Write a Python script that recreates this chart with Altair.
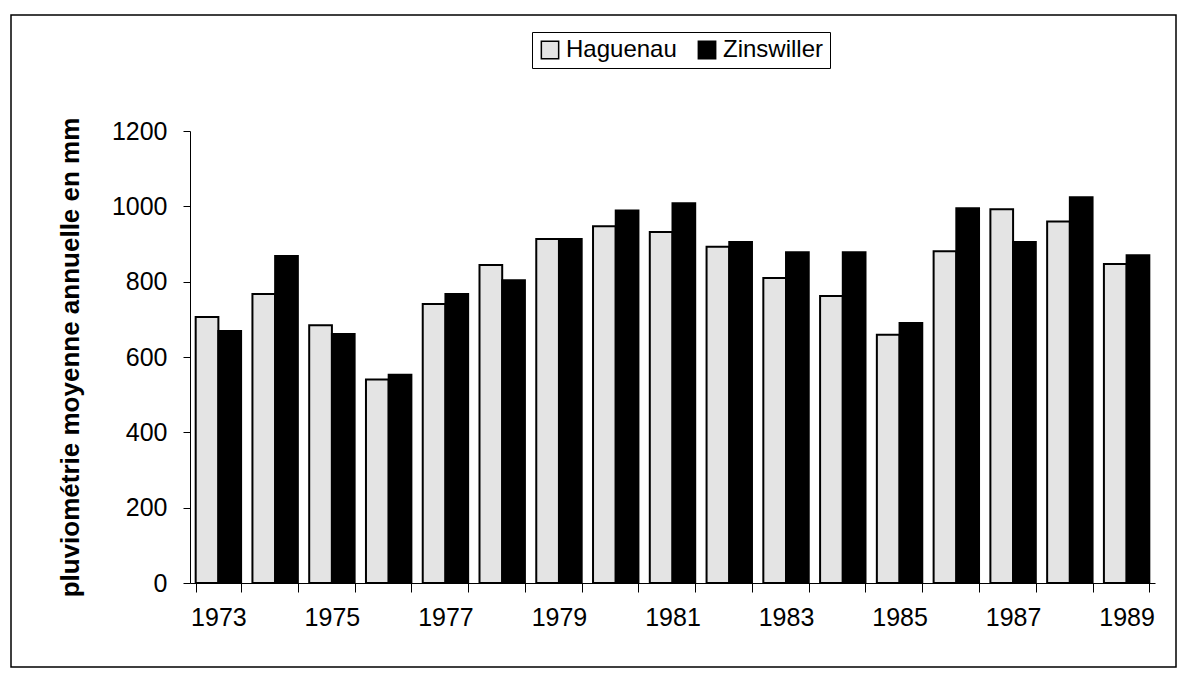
import altair as alt
import pandas as pd

years = [str(y) for y in range(1973, 1990)]
haguenau = [706, 767, 684, 540, 741, 844, 913, 947, 932, 893, 810, 762, 659, 881, 992, 960, 847]
zinswiller = [669, 868, 661, 553, 767, 804, 913, 989, 1008, 905, 878, 878, 690, 995, 905, 1024, 870]
series = ["Haguenau", "Zinswiller"]
colors = ["#e4e4e4", "#000000"]
y_ticks = [0, 200, 400, 600, 800, 1000, 1200]

rows = []
for i, yr in enumerate(years):
    rows.append({"annee": yr, "station": series[0], "pluie": haguenau[i]})
    rows.append({"annee": yr, "station": series[1], "pluie": zinswiller[i]})
df = pd.DataFrame(rows)

FONT = "Liberation Sans"

bars = alt.Chart(df).mark_bar(stroke="black", strokeWidth=2).encode(
    x=alt.X(
        "annee:N",
        sort=years,
        scale=alt.Scale(paddingInner=0.2, paddingOuter=0.1),
        axis=alt.Axis(
            title=None,
            labelAngle=0,
            tickBand="extent",
            tickSize=9,
            tickColor="black",
            domainColor="black",
            labelColor="black",
            labelFontSize=25,
            labelFont=FONT,
            labelPadding=13,
            labelExpr="(toNumber(datum.value) - 1973) % 2 == 0 ? datum.label : ''",
        ),
    ),
    xOffset=alt.XOffset("station:N", sort=series, scale=alt.Scale(paddingInner=0, paddingOuter=0)),
    y=alt.Y(
        "pluie:Q",
        scale=alt.Scale(domain=[0, 1200], nice=False),
        axis=alt.Axis(
            title="pluviométrie moyenne annuelle en mm",
            values=y_ticks,
            format="d",
            grid=False,
            tickSize=7,
            tickColor="black",
            domainColor="black",
            labelColor="black",
            labelFontSize=25,
            labelFont=FONT,
            labelPadding=16,
            titleFont=FONT,
            titleFontSize=26,
            titleFontWeight="bold",
            titleColor="black",
            titleX=-120,
            titleBaseline="middle",
        ),
    ),
    fill=alt.Fill(
        "station:N",
        sort=series,
        scale=alt.Scale(domain=series, range=colors),
        legend=alt.Legend(
            title=None,
            orient="none",
            legendX=342,
            legendY=-99,
            direction="horizontal",
            strokeColor="black",
            fillColor="white",
            padding=6,
            symbolType="square",
            symbolSize=300,
            symbolStrokeColor="black",
            symbolStrokeWidth=1.5,
            labelFont=FONT,
            labelFontSize=24,
            labelColor="black",
            columnPadding=18,
            labelOffset=4,
        ),
    ),
)

frame = alt.Chart(pd.DataFrame({"a": [0]})).mark_rect(
    fill=None, stroke="black", strokeWidth=1.5
).encode(
    x=alt.value(-179), x2=alt.value(986), y=alt.value(-116), y2=alt.value(536)
)

chart = alt.layer(frame, bars).properties(
    width=965,
    height=452,
    background="white",
    autosize=alt.AutoSizeParams(type="none"),
    padding={"left": 182, "top": 123, "right": 22, "bottom": 85},
).configure_view(stroke=None)

chart.save("out.html", embed_options={"renderer": "svg", "actions": False})
